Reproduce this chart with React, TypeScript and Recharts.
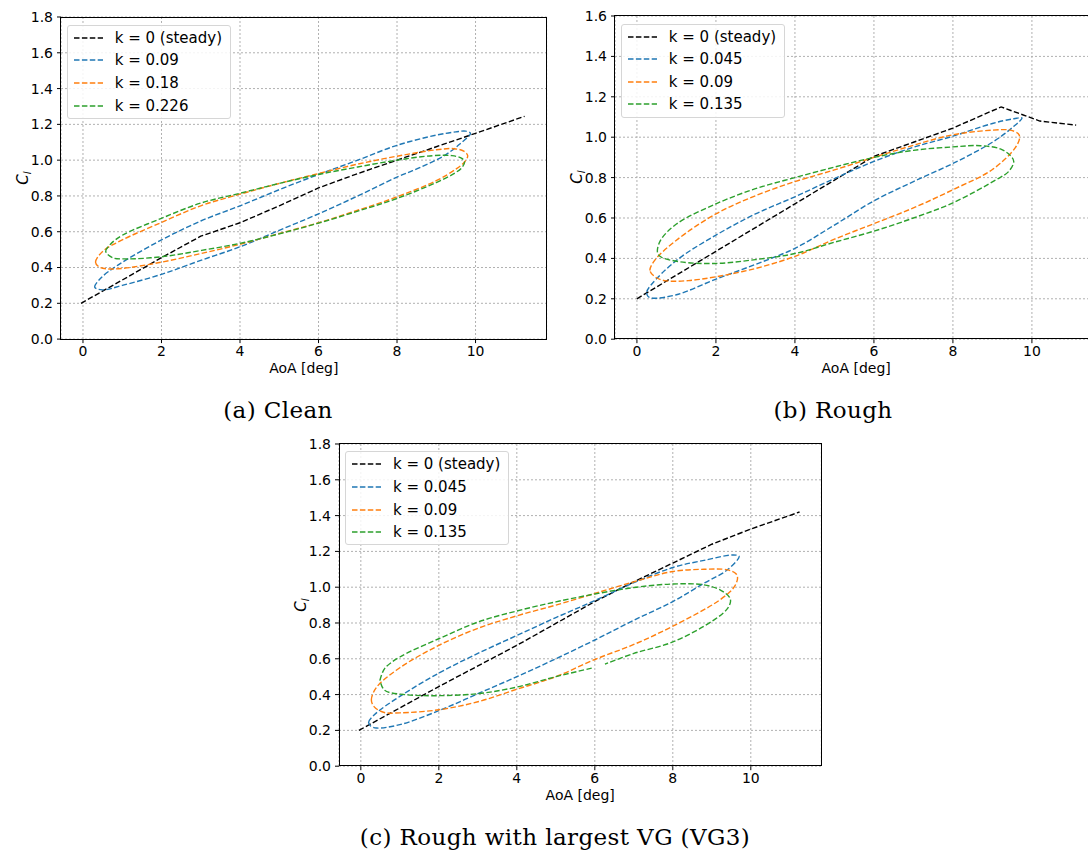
import React from 'react'
import { LineChart, Line, XAxis, YAxis, CartesianGrid } from 'recharts'

const xTicks = [0, 2, 4, 6, 8, 10]
const yTicksTall = [0, 0.2, 0.4, 0.6, 0.8, 1.0, 1.2, 1.4, 1.6, 1.8]
const yTicksShort = [0, 0.2, 0.4, 0.6, 0.8, 1.0, 1.2, 1.4, 1.6]

const COLORS = ['#000000', '#1f77b4', '#ff7f0e', '#2ca02c']

const cleanLabels = ['k = 0 (steady)', 'k = 0.09', 'k = 0.18', 'k = 0.226']
const roughLabels = ['k = 0 (steady)', 'k = 0.045', 'k = 0.09', 'k = 0.135']

// (a) Clean
const cleanSteady = [[-0.05, 0.2], [1, 0.33], [2, 0.455], [3, 0.575], [4, 0.65], [5, 0.745], [6, 0.845], [7, 0.925], [8, 1.0], [9, 1.075], [10, 1.15], [11.25, 1.245]]
const cleanK009 = [[0.3, 0.29], [0.45, 0.34], [0.9, 0.415], [2, 0.554], [3, 0.66], [4, 0.745], [5, 0.835], [6, 0.92], [7, 1.0], [8, 1.083], [9, 1.14], [9.5, 1.158], [9.75, 1.162], [9.87, 1.15], [9.6, 1.09], [9.2, 1.025], [8.6, 0.96], [8, 0.905], [7, 0.8], [6, 0.7], [5, 0.608], [4, 0.516], [3, 0.44], [2, 0.362], [1, 0.3], [0.5, 0.275], [0.3, 0.29]]
const cleanK018 = [[0.32, 0.43], [0.5, 0.49], [1, 0.554], [2, 0.652], [3, 0.745], [4, 0.81], [5, 0.87], [6, 0.925], [7, 0.978], [8, 1.022], [9, 1.058], [9.45, 1.064], [9.7, 1.05], [9.8, 1.025], [9.72, 0.99], [9.5, 0.95], [9, 0.885], [8, 0.795], [7, 0.72], [6, 0.65], [5, 0.59], [4, 0.53], [3, 0.478], [2, 0.43], [1, 0.395], [0.6, 0.393], [0.4, 0.405], [0.32, 0.43]]
const cleanK0226 = [[0.58, 0.49], [0.7, 0.53], [1, 0.58], [2, 0.675], [3, 0.76], [4, 0.815], [5, 0.87], [6, 0.92], [7, 0.962], [8, 1.0], [8.9, 1.025], [9.4, 1.025], [9.65, 1.01], [9.72, 0.99], [9.65, 0.958], [9.45, 0.925], [9, 0.875], [8, 0.786], [7, 0.715], [6, 0.648], [5, 0.588], [4, 0.535], [3, 0.495], [2, 0.46], [1.1, 0.448], [0.75, 0.455], [0.58, 0.49]]

// (b) Rough
const roughSteady = [[0, 0.2], [2, 0.435], [4, 0.67], [6, 0.905], [7, 0.975], [8, 1.045], [9.22, 1.15], [10.2, 1.08], [11.12, 1.06]]
const roughK0045 = [[0.25, 0.234], [0.35, 0.267], [1, 0.39], [2, 0.515], [3, 0.62], [4, 0.705], [5, 0.795], [6, 0.88], [7, 0.95], [8, 1.005], [9, 1.068], [9.5, 1.09], [9.75, 1.095], [9.55, 1.055], [9, 0.975], [8, 0.87], [7, 0.78], [6, 0.685], [5, 0.565], [4, 0.45], [3, 0.37], [2, 0.297], [1, 0.22], [0.4, 0.203], [0.28, 0.212], [0.25, 0.234]]
const roughK009 = [[0.33, 0.34], [0.45, 0.39], [1, 0.49], [2, 0.62], [3, 0.71], [4, 0.78], [5, 0.838], [6, 0.9], [7, 0.96], [8, 1.012], [9, 1.035], [9.45, 1.035], [9.65, 1.018], [9.69, 1.0], [9.58, 0.948], [9, 0.84], [8, 0.74], [7, 0.65], [6, 0.572], [5, 0.495], [4, 0.41], [3, 0.35], [2, 0.309], [1.3, 0.29], [0.7, 0.29], [0.45, 0.31], [0.33, 0.34]]
const roughK0135 = [[0.52, 0.43], [0.6, 0.49], [1, 0.57], [2, 0.67], [3, 0.745], [4, 0.8], [5, 0.852], [6, 0.9], [7, 0.935], [8, 0.952], [8.7, 0.958], [9.2, 0.942], [9.45, 0.91], [9.54, 0.88], [9.41, 0.83], [9.1, 0.79], [8, 0.675], [7, 0.6], [6, 0.535], [5, 0.48], [4, 0.424], [3, 0.394], [2, 0.375], [1.1, 0.383], [0.6, 0.408], [0.52, 0.43]]

// (c) Rough with VG3
const vgSteady = [[-0.05, 0.2], [2, 0.445], [4, 0.675], [6, 0.92], [7, 1.03], [8, 1.135], [9, 1.24], [10, 1.325], [11.25, 1.42]]
const vgK0045 = [[0.2, 0.245], [0.36, 0.29], [1, 0.39], [2, 0.52], [3, 0.63], [4, 0.73], [5, 0.83], [6, 0.925], [7, 1.025], [8, 1.11], [8.8, 1.15], [9.55, 1.18], [9.7, 1.172], [9.4, 1.097], [8.8, 1.022], [8, 0.92], [7, 0.815], [6, 0.705], [5, 0.6], [4, 0.5], [3, 0.405], [2, 0.31], [1, 0.232], [0.4, 0.213], [0.25, 0.225], [0.2, 0.245]]
const vgK009 = [[0.27, 0.37], [0.4, 0.44], [1, 0.55], [2, 0.675], [3, 0.77], [4, 0.84], [5, 0.9], [6, 0.965], [7, 1.03], [8, 1.088], [8.8, 1.1], [9.4, 1.097], [9.62, 1.075], [9.66, 1.05], [9.57, 1.0], [9.2, 0.928], [8, 0.782], [7, 0.68], [6, 0.596], [5, 0.5], [4, 0.43], [3, 0.36], [2, 0.315], [1, 0.298], [0.6, 0.3], [0.35, 0.33], [0.27, 0.37]]
const vgK0135 = [[0.49, 0.48], [0.61, 0.545], [1, 0.61], [2, 0.712], [3, 0.805], [4, 0.867], [5, 0.918], [6, 0.962], [7, 0.998], [8, 1.018], [8.8, 1.013], [9.22, 0.984], [9.45, 0.945], [9.48, 0.92], [9.4, 0.88], [9.05, 0.816], [8, 0.694], [7, 0.63], [6.26, 0.57], [6.1, null], [5.92, 0.548], [5, 0.5], [4, 0.442], [3, 0.405], [2, 0.394], [1.13, 0.4], [0.61, 0.424], [0.49, 0.48]]

const toPts = (arr: (number | null)[][]) => arr.map(([x, y]) => ({ x, y }))

// centripetal catmull-rom, closes smoothly when first == last point
const smoothCurve = (context: any) => {
  let pts: number[][] = []
  const d = (a: number[], b: number[]) => Math.sqrt(Math.hypot(b[0] - a[0], b[1] - a[1]))
  return {
    areaStart() {},
    areaEnd() {},
    lineStart() { pts = [] },
    point(x: number, y: number) { pts.push([+x, +y]) },
    lineEnd() {
      const n = pts.length
      if (!n) return
      context.moveTo(pts[0][0], pts[0][1])
      if (n < 3) {
        for (let i = 1; i < n; i++) context.lineTo(pts[i][0], pts[i][1])
        return
      }
      const closed = Math.hypot(pts[0][0] - pts[n - 1][0], pts[0][1] - pts[n - 1][1]) < 0.5
      for (let i = 0; i < n - 1; i++) {
        const p0 = i > 0 ? pts[i - 1] : closed ? pts[n - 2] : pts[0]
        const p1 = pts[i]
        const p2 = pts[i + 1]
        const p3 = i + 2 < n ? pts[i + 2] : closed ? pts[1] : pts[n - 1]
        const l01 = d(p0, p1), l12 = d(p1, p2), l23 = d(p2, p3)
        const l01s = l01 * l01, l12s = l12 * l12, l23s = l23 * l23
        let c1x = p1[0], c1y = p1[1], c2x = p2[0], c2y = p2[1]
        if (l01 > 1e-6) {
          const a = 2 * l01s + 3 * l01 * l12 + l12s
          const m = 3 * l01 * (l01 + l12)
          c1x = (p1[0] * a - p0[0] * l12s + p2[0] * l01s) / m
          c1y = (p1[1] * a - p0[1] * l12s + p2[1] * l01s) / m
        }
        if (l23 > 1e-6) {
          const b = 2 * l23s + 3 * l23 * l12 + l12s
          const m = 3 * l23 * (l23 + l12)
          c2x = (p2[0] * b + p1[0] * l23s - p3[0] * l12s) / m
          c2y = (p2[1] * b + p1[1] * l23s - p3[1] * l12s) / m
        }
        context.bezierCurveTo(c1x, c1y, c2x, c2y, p2[0], p2[1])
      }
    },
  }
}

const FONT = '"DejaVu Sans", sans-serif'
const DASH = '5.5 2.4'

function Panel({ box, xDomain, yTicks, series, labels }: any) {
  const AXW = 60
  const TOP = 10
  const XAH = 50
  const RIGHT = 10
  return (
    <>
      <div style={{ position: 'absolute', left: box.left - AXW, top: box.top - TOP }}>
        <LineChart
          width={box.w + AXW + RIGHT}
          height={box.h + TOP + XAH}
          margin={{ top: TOP, right: RIGHT, bottom: 0, left: 0 }}
        >
          <CartesianGrid stroke="#b0b0b0" strokeDasharray="2 2" />
          <XAxis
            dataKey="x"
            type="number"
            domain={xDomain}
            ticks={xTicks}
            interval={0}
            allowDataOverflow
            height={XAH}
            axisLine={false}
            tickLine={{ stroke: '#000' }}
            tickSize={4}
            tickMargin={3}
            tick={{ fill: '#000', fontSize: 14, fontFamily: FONT }}
            label={{ value: 'AoA [deg]', position: 'insideBottom', offset: 16, fill: '#000', fontSize: 14, fontFamily: FONT }}
          />
          <YAxis
            type="number"
            domain={[0, yTicks[yTicks.length - 1]]}
            ticks={yTicks}
            interval={0}
            allowDataOverflow
            width={AXW}
            axisLine={false}
            tickLine={{ stroke: '#000' }}
            tickSize={4}
            tickMargin={4}
            tick={{ fill: '#000', fontSize: 14, fontFamily: FONT }}
            tickFormatter={(v: number) => v.toFixed(1)}
          />
          {series.map((s: any, i: number) => (
            <Line
              key={i}
              data={toPts(s)}
              dataKey="y"
              stroke={COLORS[i]}
              strokeWidth={1.4}
              strokeDasharray={DASH}
              type={i === 0 ? 'linear' : smoothCurve}
              dot={false}
              activeDot={false}
              isAnimationActive={false}
            />
          ))}
        </LineChart>
      </div>
      <div
        style={{
          position: 'absolute',
          left: box.left - 0.5,
          top: box.top - 0.5,
          width: box.w + 1,
          height: box.h + 1,
          border: '1px solid #000',
          boxSizing: 'border-box',
          pointerEvents: 'none',
        }}
      />
      <div
        style={{
          position: 'absolute',
          left: box.left + 6,
          top: box.top + 7.8,
          width: 164,
          height: 94,
          border: '1px solid #d6d6d6',
          borderRadius: 3,
          background: 'rgba(255,255,255,0.85)',
          boxSizing: 'border-box',
        }}
      >
        {labels.map((t: string, i: number) => (
          <div key={t} style={{ position: 'absolute', left: 0, top: 12 + 22.6 * i - 10, height: 20, width: 160 }}>
            <svg width={40} height={20} style={{ position: 'absolute', left: 0, top: 0 }}>
              <line x1={6} y1={10} x2={35} y2={10} stroke={COLORS[i]} strokeWidth={1.4} strokeDasharray={DASH} />
            </svg>
            <span
              style={{
                position: 'absolute',
                left: 47,
                top: 0,
                lineHeight: '20px',
                fontSize: 15,
                fontFamily: FONT,
                color: '#000',
                whiteSpace: 'nowrap',
              }}
            >
              {t}
            </span>
          </div>
        ))}
      </div>
      <svg
        width={30}
        height={40}
        style={{ position: 'absolute', left: box.left - 53, top: box.top + box.h / 2 - 20 }}
      >
        <text transform="translate(20,20) rotate(-90)" textAnchor="middle" fontFamily={FONT} fontSize={15} fontStyle="italic" fill="#000">
          <tspan>C</tspan>
          <tspan fontSize={10.5} dy={3}>l</tspan>
        </text>
      </svg>
    </>
  )
}

function Caption({ text, cx, cy }: any) {
  return (
    <div
      style={{
        position: 'absolute',
        left: cx - 300,
        width: 600,
        top: cy - 12.2,
        height: 23,
        lineHeight: '23px',
        textAlign: 'center',
        fontFamily: '"DejaVu Serif", serif',
        fontSize: 23,
        letterSpacing: 0.4,
        color: '#000',
      }}
    >
      {text}
    </div>
  )
}

export default function App() {
  return (
    <div style={{ position: 'absolute', left: 0, top: 0, width: 1088, height: 852, overflow: 'hidden', background: '#fff' }}>
      <Panel
        box={{ left: 60.7, top: 17, w: 485.6, h: 322.1 }}
        xDomain={[-0.56, 11.81]}
        yTicks={yTicksTall}
        series={[cleanSteady, cleanK009, cleanK018, cleanK0226]}
        labels={cleanLabels}
      />
      <Panel
        box={{ left: 614.8, top: 15.8, w: 482.3, h: 323.2 }}
        xDomain={[-0.555, 11.655]}
        yTicks={yTicksShort}
        series={[roughSteady, roughK0045, roughK009, roughK0135]}
        labels={roughLabels}
      />
      <Panel
        box={{ left: 339, top: 443.6, w: 482.4, h: 322.2 }}
        xDomain={[-0.56, 11.81]}
        yTicks={yTicksTall}
        series={[vgSteady, vgK0045, vgK009, vgK0135]}
        labels={roughLabels}
      />
      <Caption text="(a) Clean" cx={278} cy={411} />
      <Caption text="(b) Rough" cx={833} cy={411} />
      <Caption text="(c) Rough with largest VG (VG3)" cx={555} cy={838} />
    </div>
  )
}
